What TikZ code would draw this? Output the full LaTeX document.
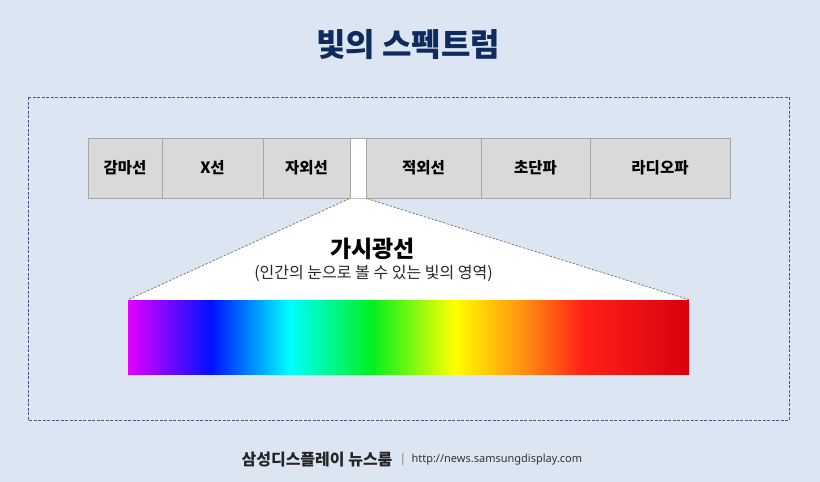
\documentclass[tikz,border=0pt]{standalone}
\usepackage{fontspec}
\setmainfont{Noto Sans}
\newfontfamily\kr{Noto Sans CJK KR}
\usetikzlibrary{positioning}
\definecolor{bgc}{HTML}{DCE6F2}
\definecolor{titlec}{HTML}{0F2A5C}
\definecolor{framec}{HTML}{3F5C86}
\definecolor{cellc}{HTML}{D9D9D9}
\definecolor{cellb}{HTML}{A6A6A6}
\definecolor{sp0}{HTML}{E300FF}
\definecolor{sp1}{HTML}{0010FF}
\definecolor{sp2}{HTML}{00FFFF}
\definecolor{sp3}{HTML}{00F020}
\definecolor{sp4}{HTML}{FFFF00}
\definecolor{sp5}{HTML}{FF9010}
\definecolor{sp6}{HTML}{FF2018}
\definecolor{sp7}{HTML}{D9000F}
\pgfdeclarehorizontalshading{spectrum}{100bp}{color(0bp)=(sp0); color(25bp)=(sp0); color(32.4bp)=(sp1); color(39.4bp)=(sp2); color(46.7bp)=(sp3); color(54.1bp)=(sp4); color(60.25bp)=(sp5); color(65.55bp)=(sp6); color(75bp)=(sp7); color(100bp)=(sp7)}
\tikzset{
  cellbox/.style={draw=cellb, fill=cellc, line width=1pt, minimum height=60pt, inner sep=0pt, font=\kr\bfseries\fontsize{15.5}{15.5}\selectfont, text=black},
  edgeline/.style={draw=gray, dashed, dash pattern=on 2.5pt off 1.5pt, line width=0.8pt},
}
\begin{document}
\begin{tikzpicture}[x=1pt,y=-1pt]
\useasboundingbox (0,0) rectangle (820,482);
\fill[bgc] (0,0) rectangle (820,482);
\node[font=\kr\bfseries\fontsize{32}{32}\selectfont, text=titlec] (title) at (408,45) {빛의 스펙트럼};
\draw[framec, dash pattern=on 3pt off 1.5pt, line width=0.8pt] (28,97) rectangle (789,420);
\node[cellbox, minimum width=74pt] (c1) at (125,168) {감마선};
\node[cellbox, minimum width=101pt] (c2) at (212.5,168) {X선};
\node[cellbox, minimum width=87pt] (c3) at (306.5,168) {자외선};
\node[cellbox, minimum width=16pt, fill=white] (vis) at (358,168) {};
\node[cellbox, minimum width=115pt] (c5) at (423.5,168) {적외선};
\node[cellbox, minimum width=109pt] (c6) at (535.5,168) {초단파};
\node[cellbox, minimum width=140pt] (c7) at (660,168) {라디오파};
\node[inner sep=0pt, minimum width=561pt, minimum height=74pt, shading=spectrum] (spec) at (408.5,337) {};
\fill[white] (vis.south west) -- (vis.south east) -- (spec.north east) -- (spec.north west) -- cycle;
\draw[edgeline] (vis.south west) -- (spec.north west);
\draw[edgeline] (vis.south east) -- (spec.north east);
\node[font=\kr\bfseries\fontsize{23}{23}\selectfont] (vtitle) at (372.5,249) {가시광선};
\node[font=\kr\fontsize{16}{16}\selectfont, text=black!85] (vsub) at (373.5,273) {(인간의 눈으로 볼 수 있는 빛의 영역)};
\node[font=\kr\bfseries\fontsize{16}{16}\selectfont, text=black!85, anchor=east] (brand) at (396,460) {삼성디스플레이 뉴스룸};
\node[font=\fontsize{12}{12}\selectfont, text=gray] (bar) at (403,459) {|};
\node[font=\fontsize{11}{11}\selectfont, text=black!80, anchor=west] (url) at (408,460) {http://news.samsungdisplay.com};
\end{tikzpicture}
\end{document}
